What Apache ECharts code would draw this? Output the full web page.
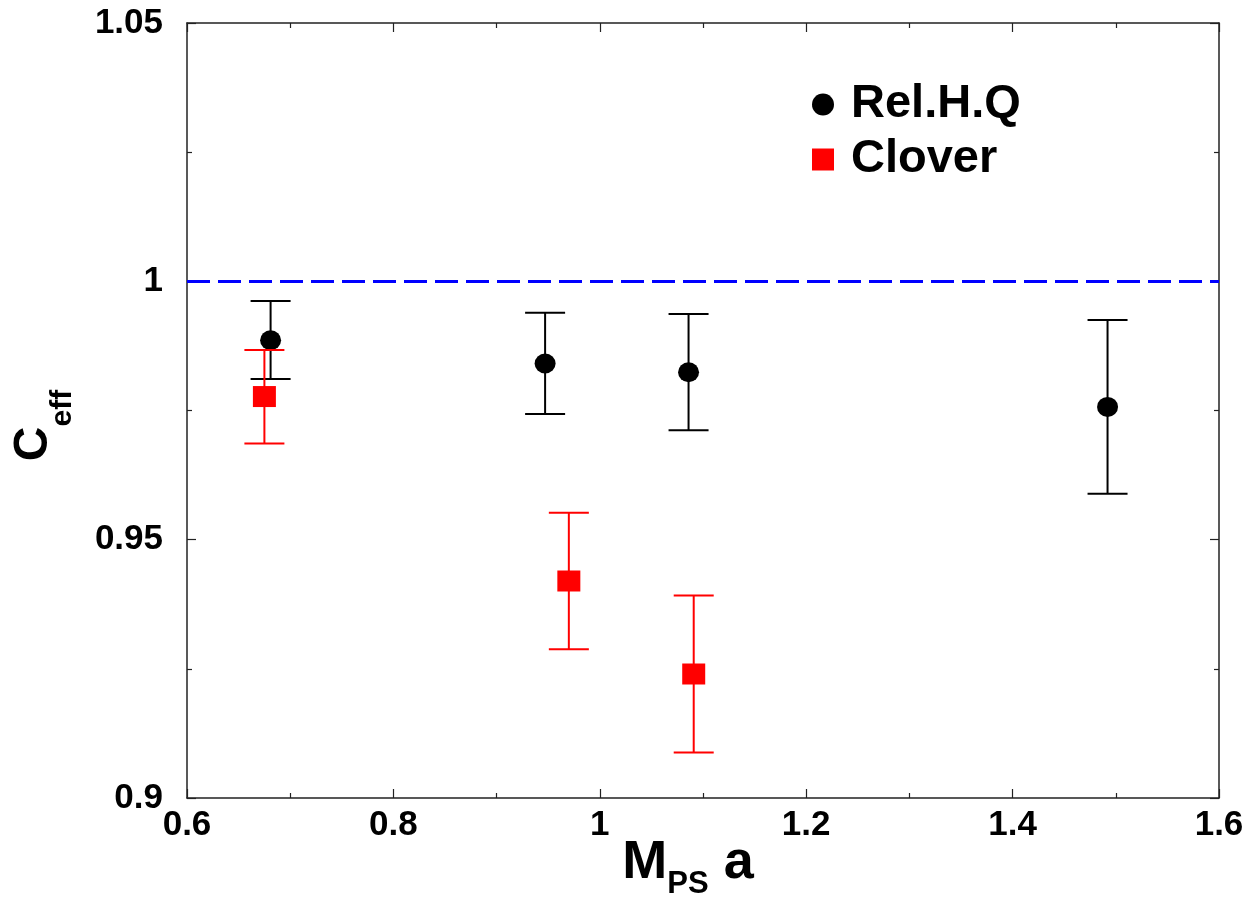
<!DOCTYPE html>
<html>
<head>
<meta charset="utf-8">
<script src="https://cdn.jsdelivr.net/npm/echarts@6/dist/echarts.min.js"></script>
<style>
html,body{margin:0;padding:0;background:#fff;}
#chart{width:1249px;height:897px;}
</style>
</head>
<body>
<div id="chart"></div>
<script>
// ---- data ----
const seriesNames = ['Rel.H.Q', 'Clover'];
const relX  = [0.681, 0.947, 1.086, 1.492];
const relY  = [0.9886, 0.9841, 0.9824, 0.9757];
const relLo = [0.9811, 0.9743, 0.9712, 0.9589];
const relHi = [0.9962, 0.9939, 0.9937, 0.9925];
const clvX  = [0.675, 0.970, 1.091];
const clvY  = [0.9777, 0.9420, 0.9240];
const clvLo = [0.9686, 0.9288, 0.9088];
const clvHi = [0.9867, 0.9552, 0.9392];
const refLine = 1;
const xTicks = [0.6, 0.8, 1, 1.2, 1.4, 1.6];
const yTicks = [0.9, 0.95, 1, 1.05];

const FONT = '"Liberation Sans", Arial, Helvetica, sans-serif';

function errBars(xs, lo, hi) { return xs.map((x, i) => [x, lo[i], hi[i]]); }
function pts(xs, ys) { return xs.map((x, i) => [x, ys[i]]); }

function errRender(color) {
  return function (params, api) {
    const x = api.value(0);
    const p1 = api.coord([x, api.value(1)]);
    const p2 = api.coord([x, api.value(2)]);
    const hw = 20;
    const st = { stroke: color, lineWidth: 2 };
    return {
      type: 'group',
      children: [
        { type: 'line', shape: { x1: p1[0], y1: p1[1], x2: p2[0], y2: p2[1] }, style: st },
        { type: 'line', shape: { x1: p1[0] - hw, y1: p1[1], x2: p1[0] + hw, y2: p1[1] }, style: st },
        { type: 'line', shape: { x1: p2[0] - hw, y1: p2[1], x2: p2[0] + hw, y2: p2[1] }, style: st }
      ]
    };
  };
}

const axisLine = { show: true, lineStyle: { color: '#222', width: 1.5 } };
const tickMajor = { show: true, inside: true, length: 9, lineStyle: { color: '#222', width: 1.2 } };
const tickMinor = { show: true, splitNumber: 2, length: 5, lineStyle: { color: '#222', width: 1.2 } };
const labelStyle = { fontFamily: FONT, fontWeight: 'bold', fontSize: 35, color: '#000' };

const xBase = {
  type: 'value', min: xTicks[0], max: xTicks[xTicks.length - 1], interval: 0.2,
  axisLine: axisLine, axisTick: tickMajor, minorTick: tickMinor,
  splitLine: { show: false }, minorSplitLine: { show: false }
};
const yBase = {
  type: 'value', min: yTicks[0], max: yTicks[yTicks.length - 1], interval: 0.05,
  axisLine: axisLine, axisTick: tickMajor, minorTick: tickMinor,
  splitLine: { show: false }, minorSplitLine: { show: false }
};

const chart = echarts.init(document.getElementById('chart'), null, { renderer: 'canvas' });
chart.setOption({
  animation: false,
  backgroundColor: '#fff',
  grid: { left: 187, top: 23, right: 30, bottom: 99, containLabel: false, outerBoundsMode: 'none' },
  legend: {
    orient: 'vertical', left: 807, top: 76, itemWidth: 22, itemHeight: 22, itemGap: 8,
    selectedMode: false,
    textStyle: { fontFamily: FONT, fontWeight: 'bold', fontSize: 47, lineHeight: 46, color: '#000', padding: [0, 0, 0, 12] },
    data: [
      { name: seriesNames[0], icon: 'circle', itemStyle: { color: '#000' } },
      { name: seriesNames[1], icon: 'rect', itemStyle: { color: '#ff0000' } }
    ]
  },
  xAxis: [
    Object.assign({}, xBase, {
      position: 'bottom',
      axisLabel: Object.assign({ margin: 10 }, labelStyle),
      name: '{m|M}{s|PS}{a| a}',
      nameLocation: 'middle', nameGap: 38, nameMoveOverlap: false,
      nameTextStyle: {
        padding: [0, 30, 0, 0],
        rich: {
          m: { fontFamily: FONT, fontWeight: 'bold', fontSize: 54, lineHeight: 54, verticalAlign: 'top', color: '#000' },
          s: { fontFamily: FONT, fontWeight: 'bold', fontSize: 31, lineHeight: 31, verticalAlign: 'top', padding: [33, 0, 0, 0], color: '#000' },
          a: { fontFamily: FONT, fontWeight: 'bold', fontSize: 54, lineHeight: 54, verticalAlign: 'top', color: '#000' }
        }
      }
    }),
    Object.assign({}, xBase, { position: 'top', axisLabel: { show: false } })
  ],
  yAxis: [
    Object.assign({}, yBase, {
      position: 'left',
      axisLabel: Object.assign({ margin: 24 }, labelStyle),
      name: '{c|C}{s|eff}',
      nameLocation: 'middle', nameGap: 129, nameMoveOverlap: false,
      nameTextStyle: {
        padding: [0, 30, 0, 0],
        rich: {
          c: { fontFamily: FONT, fontWeight: 'bold', fontSize: 48, lineHeight: 48, verticalAlign: 'top', color: '#000' },
          s: { fontFamily: FONT, fontWeight: 'bold', fontSize: 30, lineHeight: 30, verticalAlign: 'top', padding: [38, 0, 0, 0], color: '#000' }
        }
      }
    }),
    Object.assign({}, yBase, { position: 'right', axisLabel: { show: false } })
  ],
  series: [
    {
      type: 'line', data: [], xAxisIndex: 0, yAxisIndex: 0, silent: true,
      markLine: {
        silent: true, symbol: ['none', 'none'], label: { show: false },
        lineStyle: { color: '#0000ff', width: 3, type: [23, 8] },
        data: [{ yAxis: refLine }]
      }
    },
    {
      name: seriesNames[0] + ' err', type: 'custom', renderItem: errRender('#000'),
      data: errBars(relX, relLo, relHi), encode: { x: 0, y: [1, 2] }, z: 3
    },
    {
      name: seriesNames[0], type: 'scatter', symbol: 'circle', symbolSize: [21, 20],
      itemStyle: { color: '#000', opacity: 1 }, data: pts(relX, relY), z: 4
    },
    {
      name: seriesNames[1] + ' err', type: 'custom', renderItem: errRender('#ff0000'),
      data: errBars(clvX, clvLo, clvHi), encode: { x: 0, y: [1, 2] }, z: 5
    },
    {
      name: seriesNames[1], type: 'scatter', symbol: 'rect', symbolSize: [23, 21],
      itemStyle: { color: '#ff0000', opacity: 1 }, data: pts(clvX, clvY), z: 6
    }
  ]
});
</script>
</body>
</html>
